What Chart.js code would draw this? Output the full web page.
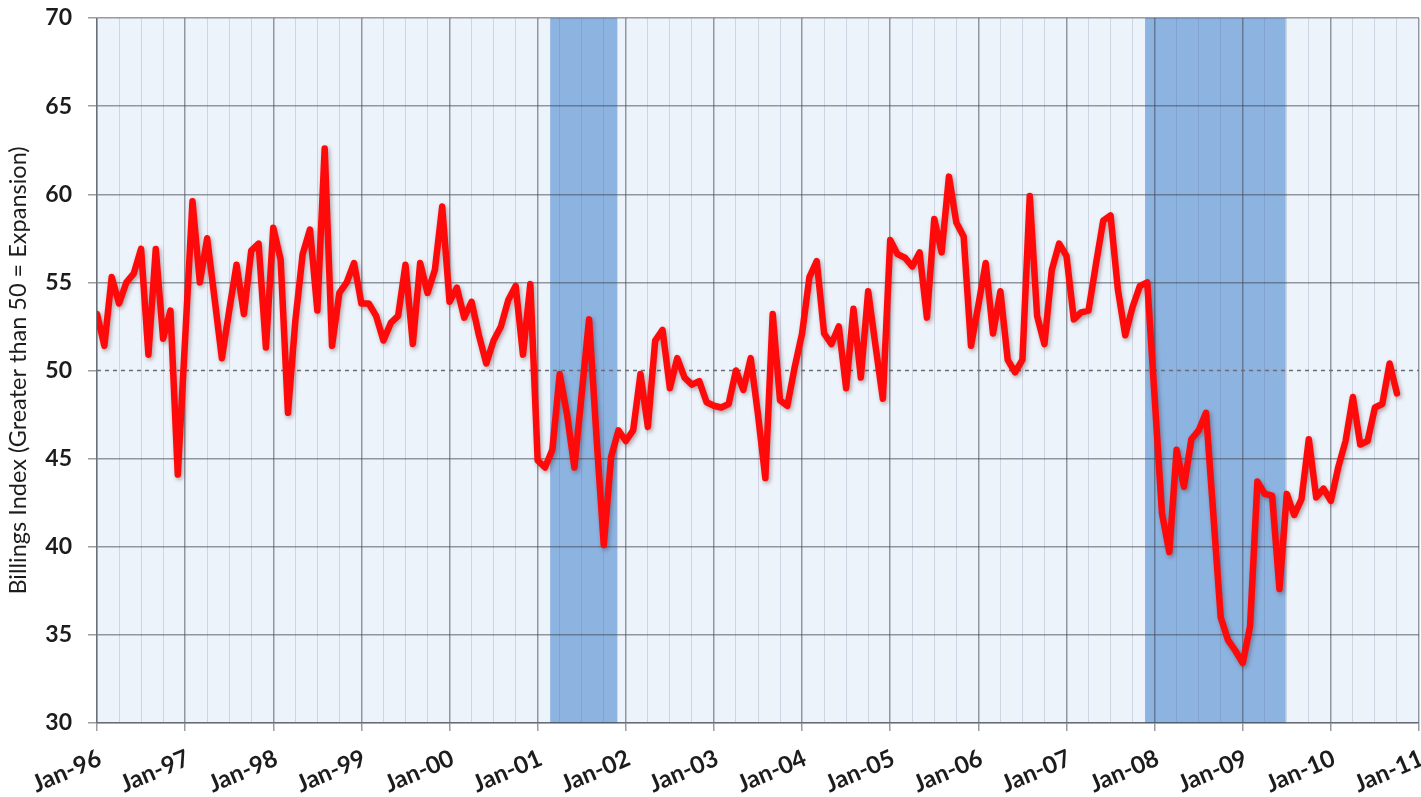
<!DOCTYPE html>
<html>
<head>
<meta charset="utf-8">
<script src="https://cdn.jsdelivr.net/npm/chart.js@4/dist/chart.umd.min.js"></script>
<style>
  html, body { margin: 0; padding: 0; background: #ffffff; }
  #wrap { width: 1421px; height: 797px; }
</style>
</head>
<body>
<div id="wrap"><canvas id="abi" width="1421" height="797"></canvas></div>
<script>
// Architecture Billings Index, monthly, Jan-96 .. Oct-10
const firstYear = 1996;
const tickLabels = ['Jan-96','Jan-97','Jan-98','Jan-99','Jan-00','Jan-01','Jan-02','Jan-03',
                    'Jan-04','Jan-05','Jan-06','Jan-07','Jan-08','Jan-09','Jan-10','Jan-11'];
const yTicks = [30, 35, 40, 45, 50, 55, 60, 65, 70];
const expansionLevel = 50;

const billingsIndex = [
  // 1996
  53.2, 51.4, 55.3, 53.8, 55.0, 55.5, 56.9, 50.9, 56.9, 51.8, 53.4, 44.1,
  // 1997
  51.8, 59.6, 55.0, 57.5, 54.1, 50.7, 53.4, 56.0, 53.2, 56.8, 57.2, 51.3,
  // 1998
  58.1, 56.3, 47.6, 52.8, 56.6, 58.0, 53.4, 62.6, 51.4, 54.4, 55.0, 56.1,
  // 1999
  53.8, 53.8, 53.1, 51.7, 52.7, 53.1, 56.0, 51.5, 56.1, 54.4, 55.7, 59.3,
  // 2000
  53.9, 54.7, 53.0, 53.9, 52.0, 50.4, 51.7, 52.5, 54.0, 54.8, 50.9, 54.9,
  // 2001
  44.9, 44.5, 45.5, 49.8, 47.5, 44.5, 48.7, 52.9, 46.3, 40.1, 45.1, 46.6,
  // 2002
  46.0, 46.6, 49.8, 46.8, 51.7, 52.3, 49.0, 50.7, 49.6, 49.2, 49.4, 48.2,
  // 2003
  48.0, 47.9, 48.1, 50.0, 48.9, 50.7, 47.5, 43.9, 53.2, 48.3, 48.0, 50.2,
  // 2004
  52.1, 55.3, 56.2, 52.1, 51.5, 52.5, 49.0, 53.5, 49.6, 54.5, 51.4, 48.4,
  // 2005
  57.4, 56.6, 56.4, 55.9, 56.7, 53.0, 58.6, 56.7, 61.0, 58.4, 57.6, 51.4,
  // 2006
  53.7, 56.1, 52.1, 54.5, 50.6, 49.9, 50.6, 59.9, 53.1, 51.5, 55.7, 57.2,
  // 2007
  56.5, 52.9, 53.3, 53.4, 56.0, 58.5, 58.8, 54.6, 52.0, 53.6, 54.8, 55.0,
  // 2008
  48.5, 41.9, 39.7, 45.5, 43.4, 46.1, 46.6, 47.6, 41.8, 36.0, 34.7, 34.1,
  // 2009
  33.4, 35.5, 43.7, 43.0, 42.9, 37.6, 43.0, 41.8, 42.7, 46.1, 42.8, 43.3,
  // 2010
  42.6, 44.5, 46.0, 48.5, 45.8, 46.0, 47.9, 48.1, 50.4, 48.7
];

// NBER recession periods (first month, last month)
const recessions = [
  ['2001-03', '2001-11'],
  ['2007-12', '2009-06']
];

function monthIndex(ym) {
  const [y, m] = ym.split('-').map(Number);
  return (y - firstYear) * 12 + (m - 1);
}

const lastMonth = tickLabels.length * 12 - 12;

const plotBg = '#edf3fb';
const bandColor = '#8db3e1';
const majorGrid = 'rgba(70,75,85,0.55)';
const minorGrid = 'rgba(90,110,140,0.22)';
const labelColor = '#1c1c1c';

const plotBackground = {
  id: 'plotBackground',
  beforeDraw(chart) {
    const { ctx, chartArea: a, scales: { x } } = chart;
    ctx.save();
    ctx.fillStyle = plotBg;
    ctx.fillRect(a.left, a.top, a.right - a.left, a.bottom - a.top);
    ctx.fillStyle = bandColor;
    recessions.forEach(([from, to]) => {
      const x0 = x.getPixelForValue(monthIndex(from) - 0.3);
      const x1 = x.getPixelForValue(monthIndex(to) + 0.85);
      ctx.fillRect(x0, a.top, x1 - x0, a.bottom - a.top);
    });
    ctx.restore();
  }
};

const lineShadow = {
  id: 'lineShadow',
  beforeDatasetDraw(chart, args) {
    if (args.index !== 0) return;
    const ctx = chart.ctx;
    ctx.save();
    ctx.shadowColor = 'rgba(60,0,0,0.35)';
    ctx.shadowBlur = 4;
    ctx.shadowOffsetX = 1.5;
    ctx.shadowOffsetY = 2;
  },
  afterDatasetDraw(chart, args) {
    if (args.index !== 0) return;
    chart.ctx.restore();
  }
};

new Chart(document.getElementById('abi'), {
  type: 'line',
  data: {
    datasets: [
      {
        label: 'Billings Index',
        data: billingsIndex.map((v, i) => ({ x: i, y: v })),
        borderColor: '#ff0a0a',
        borderWidth: 6.5,
        borderJoinStyle: 'round',
        borderCapStyle: 'round',
        pointRadius: 0,
        tension: 0,
        order: 0
      },
      {
        label: 'Expansion threshold',
        data: [{ x: 0, y: expansionLevel }, { x: lastMonth, y: expansionLevel }],
        borderColor: '#6a6d73',
        borderWidth: 1.5,
        borderDash: [4, 4],
        pointRadius: 0,
        order: 1
      }
    ]
  },
  options: {
    responsive: false,
    animation: false,
    devicePixelRatio: 1,
    layout: { padding: { top: 18, right: 2, bottom: 0, left: 0 } },
    plugins: { legend: { display: false }, tooltip: { enabled: false } },
    scales: {
      x: {
        type: 'linear',
        min: 0,
        max: lastMonth,
        afterBuildTicks(s) {
          const t = [];
          for (let v = 0; v <= lastMonth; v += 3) t.push({ value: v });
          s.ticks = t;
        },
        afterFit(s) { s.height = 74; s.paddingLeft = 0; s.paddingRight = 0; },
        ticks: {
          autoSkip: false,
          minRotation: 23,
          maxRotation: 23,
          padding: 13,
          labelOffset: 3,
          color: labelColor,
          font: { family: 'Lato', size: 24, weight: 'bold' },
          callback: v => (v % 12 === 0 ? tickLabels[v / 12] : '')
        },
        grid: {
          color: c => (c.tick && c.tick.value % 12 === 0 ? majorGrid : minorGrid),
          lineWidth: c => (c.tick && c.tick.value % 12 === 0 ? 1.5 : 1),
          tickColor: c => (c.tick && c.tick.value % 12 === 0 ? majorGrid : 'rgba(0,0,0,0)'),
          tickLength: 8
        },
        border: { color: majorGrid, width: 1.5 }
      },
      y: {
        min: 30,
        max: 70,
        afterBuildTicks(s) { s.ticks = yTicks.map(v => ({ value: v })); },
        afterFit(s) { s.width = 97; s.paddingTop = 0; s.paddingBottom = 0; },
        ticks: {
          padding: 16,
          color: labelColor,
          font: { family: 'Lato', size: 23, weight: 'bold' }
        },
        grid: {
          color: c => (c.tick && c.tick.value === expansionLevel ? 'rgba(0,0,0,0)' : majorGrid),
          tickColor: majorGrid,
          lineWidth: 1.5,
          tickLength: 9
        },
        border: { color: majorGrid, width: 1.5 },
        title: {
          display: true,
          text: 'Billings Index (Greater than 50 = Expansion)',
          color: labelColor,
          padding: { top: 4, bottom: 0 },
          font: { family: 'Lato', size: 23.5 }
        }
      }
    }
  },
  plugins: [plotBackground, lineShadow]
});
</script>
</body>
</html>
